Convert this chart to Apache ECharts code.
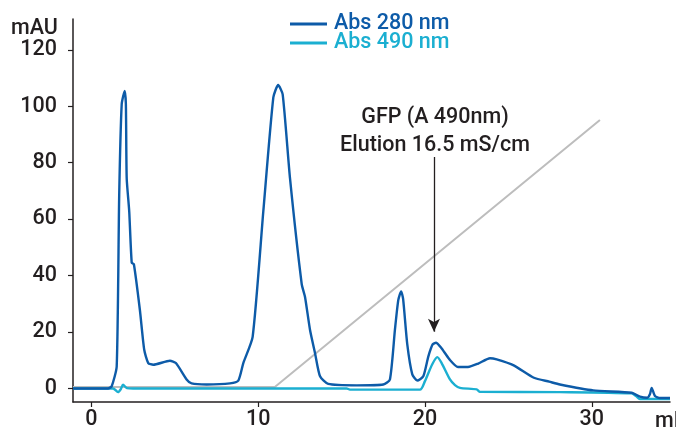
<!DOCTYPE html>
<html>
<head>
<meta charset="utf-8">
<script src="https://cdn.jsdelivr.net/npm/echarts@6/dist/echarts.min.js"></script>
<style>html,body{margin:0;padding:0;background:#fff}#c{width:676px;height:431px}</style>
</head>
<body>
<div id="c"></div>
<script>
// Elution volume (mL) and absorbance (mAU)
const abs280X = [-1.1, 1.0, 1.22, 1.52, 1.67, 1.82, 2.0, 2.07, 2.12, 2.27, 2.42, 2.55, 2.91, 3.17, 3.41, 3.71, 4.71, 5.07, 5.71, 6.01, 6.91, 8.31, 8.81, 9.11, 9.67, 10.31, 10.91, 11.2, 11.47, 11.91, 12.61, 12.81, 13.11, 13.41, 13.71, 14.2, 15.91, 17.5, 17.9, 18.2, 18.4, 18.57, 18.69, 18.94, 19.24, 19.54, 19.9, 20.2, 20.46, 20.66, 20.96, 21.47, 21.98, 22.58, 23.19, 23.9, 24.3, 25.32, 26.53, 27.45, 28.09, 30.09, 32.39, 32.89, 33.33, 33.49, 33.59, 33.79, 34.09, 34.69];
const abs280Y = [0, 0, 0.8, 7.8, 68.6, 100.7, 105.4, 100.7, 74.4, 62.8, 44.6, 44.0, 27.8, 13.7, 9.0, 8.4, 9.8, 9.0, 3.2, 1.8, 1.4, 1.8, 2.8, 9.0, 18.3, 62.8, 103.1, 107.5, 104.2, 74.4, 37.0, 32.4, 20.7, 12.5, 4.3, 1.6, 1.1, 1.4, 3.2, 20.8, 31.3, 34.4, 31.7, 15.6, 5.0, 2.8, 4.3, 11.3, 15.6, 16.2, 14.5, 10.3, 7.6, 7.6, 8.8, 10.7, 10.3, 8.2, 3.8, 2.4, 1.4, -0.7, -1.5, -2.9, -3.3, -2.0, 0.2, -2.7, -3.4, -3.4];
const abs490X = [-1.1, 1.3, 1.6, 1.77, 1.9, 2.13, 2.5, 15.3, 15.5, 19.7, 20.0, 20.43, 20.74, 21.0, 21.5, 21.8, 22.1, 23.1, 23.3, 28.09, 32.39, 32.65, 32.89, 34.69];
const abs490Y = [0, 0, -1.3, -0.2, 1.3, 0.1, 0, 0, -0.4, -0.4, 2.6, 8.5, 11.1, 9.0, 3.2, 1.2, 0.2, -0.35, -1.2, -1.3, -1.75, -2.7, -3.75, -3.75];
const gradientX = [-1.1, 11.0, 30.49];
const gradientY = [0.55, 0.55, 95.1];
const yTicks = [0, 20, 40, 60, 80, 100, 120];
const xTicks = [0, 10, 20, 30];
const seriesNames = ['Abs 280 nm', 'Abs 490 nm'];
const annotationLines = ['GFP (A 490nm)', 'Elution 16.5 mS/cm'];
const arrowX = 20.54, arrowTop = 82, arrowTip = 20.1;

const pair = (xs, ys) => xs.map((x, i) => [x, ys[i]]);
const FONT = 'Roboto, Liberation Sans, Arial, sans-serif';
const FW = 500, FS = 21.5;
const C280 = '#0d5ba8', C490 = '#1bafd1', TXT = '#231f20';

const chart = echarts.init(document.getElementById('c'));
chart.setOption({
  animation: false,
  textStyle: { fontFamily: FONT },
  grid: { left: 73, top: 19, width: 597, height: 387, containLabel: false },
  legend: {
    orient: 'vertical', left: 285, top: 8, itemWidth: 37, itemHeight: 3, itemGap: -3,
    icon: 'rect',
    data: [
      { name: seriesNames[0], textStyle: { color: C280 } },
      { name: seriesNames[1], textStyle: { color: C490 } }
    ],
    textStyle: { fontSize: FS, fontWeight: FW, fontFamily: FONT, lineHeight: 20, padding: [0, 0, 0, 2] }
  },
  xAxis: {
    type: 'value', min: -1.1, max: 34.69,
    axisLine: { show: true, onZero: false, lineStyle: { color: TXT, width: 1.5 } },
    axisTick: { show: true, customValues: xTicks, length: 5, lineStyle: { color: TXT, width: 1.2 } },
    axisLabel: { customValues: xTicks, fontSize: FS, fontWeight: FW, color: TXT, margin: 7, fontFamily: FONT },
    splitLine: { show: false }
  },
  yAxis: {
    type: 'value', min: -4.8, max: 130.9,
    axisLine: { show: true, onZero: false, lineStyle: { color: TXT, width: 1.5 } },
    axisTick: { show: true, customValues: yTicks, length: 5, lineStyle: { color: TXT, width: 1.2 } },
    axisLabel: { customValues: yTicks, fontSize: FS, fontWeight: FW, color: TXT, margin: 16, fontFamily: FONT },
    splitLine: { show: false }
  },
  graphic: [
    { type: 'text', left: 11, top: 18, style: { text: 'mAU', fontSize: FS, fontWeight: FW, fill: TXT, fontFamily: FONT } },
    { type: 'text', left: 655, top: 411, style: { text: 'mL', fontSize: FS, fontWeight: FW, fill: TXT, fontFamily: FONT } },
    { type: 'text', x: 435, y: 104, style: { text: annotationLines.join('\n'), fontSize: FS, fontWeight: FW, lineHeight: 28, fill: TXT, align: 'center', fontFamily: FONT } }
  ],
  series: [
    {
      name: 'Gradient', type: 'line', data: pair(gradientX, gradientY), showSymbol: false, clip: false,
      lineStyle: { color: '#bdbdbd', width: 2 }, z: 1
    },
    {
      name: seriesNames[1], type: 'line', data: pair(abs490X, abs490Y), showSymbol: false, clip: false,
      smooth: 0.25, color: C490, lineStyle: { color: C490, width: 2.4 }, z: 2
    },
    {
      name: seriesNames[0], type: 'line', data: pair(abs280X, abs280Y), showSymbol: false, clip: false,
      smooth: 0.2, color: C280, lineStyle: { color: C280, width: 2.4 }, z: 3,
      markLine: {
        silent: true, symbol: ['none', 'arrow'], symbolSize: [9, 13],
        lineStyle: { color: TXT, width: 1.3, type: 'solid' }, label: { show: false },
        data: [[{ coord: [arrowX, arrowTop] }, { coord: [arrowX, arrowTip] }]]
      }
    }
  ]
});
</script>
</body>
</html>
